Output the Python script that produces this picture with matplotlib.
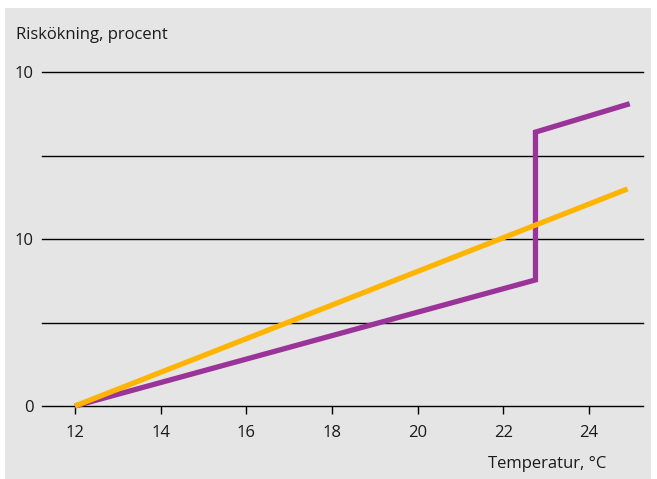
import matplotlib.pyplot as plt
from matplotlib.patches import Rectangle

# data
temp_orange = [12, 24.9]
risk_orange = [0, 13.0]
temp_purple = [12, 22.75, 22.75, 24.95]
risk_purple = [0, 7.55, 16.4, 18.1]
x_ticks = [12, 14, 16, 18, 20, 22, 24]
y_ticks = [0, 10, 20]
y_tick_labels = ["0", "10", "10"]
grid_levels = [0, 5, 10, 15, 20]

plt.rcParams['font.family'] = ['Open Sans', 'DejaVu Sans']
bg = '#e5e5e5'
W, H = 657, 479
fs = 12

fig = plt.figure(figsize=(W / 100, H / 100), dpi=100, facecolor='white')
fig.patches.append(Rectangle((5 / W, 0), (651 - 5) / W, (H - 8) / H,
                             transform=fig.transFigure, facecolor=bg,
                             edgecolor='none', zorder=-10))

# axes placed in pixels: x 42..643, y 0 at 406, y 20 at 72
left, right = 42, 643
y0, y20 = 406, 72
ax = fig.add_axes([left / W, (H - y0) / H, (right - left) / W, (y0 - y20) / H])
ax.set_facecolor('none')
ax.set_zorder(5)
ax.set_xlim(11.23, 25.26)
ax.set_ylim(0, 20)

for g in grid_levels:
    ax.axhline(g, color='black', lw=1.0, zorder=1, clip_on=False)

ax.plot(temp_orange, risk_orange, color='#ffb400', lw=3.8,
        solid_capstyle='butt', zorder=3, clip_on=False)
ax.plot(temp_purple, risk_purple, color='#9a3499', lw=3.8,
        solid_capstyle='butt', solid_joinstyle='miter', zorder=2, clip_on=False)

for s in ax.spines.values():
    s.set_visible(False)

ax.set_xticks(x_ticks)
ax.set_xticklabels([str(t) for t in x_ticks])
ax.set_yticks(y_ticks)
ax.set_yticklabels(y_tick_labels)
ax.tick_params(axis='x', direction='out', length=6, width=1.0, color='black',
               labelsize=fs, pad=8, labelcolor='#1a1a1a')
ax.tick_params(axis='y', length=0, labelsize=fs, pad=6, labelcolor='#1a1a1a')

fig.text(16 / W, 1 - 35 / H, "Riskökning, procent", fontsize=fs,
         color='#1a1a1a', ha='left', va='center')
fig.text(606 / W, 1 - 464 / H, "Temperatur, °C", fontsize=fs,
         color='#1a1a1a', ha='right', va='center')

fig.savefig("out.png", dpi=100, facecolor='white')
